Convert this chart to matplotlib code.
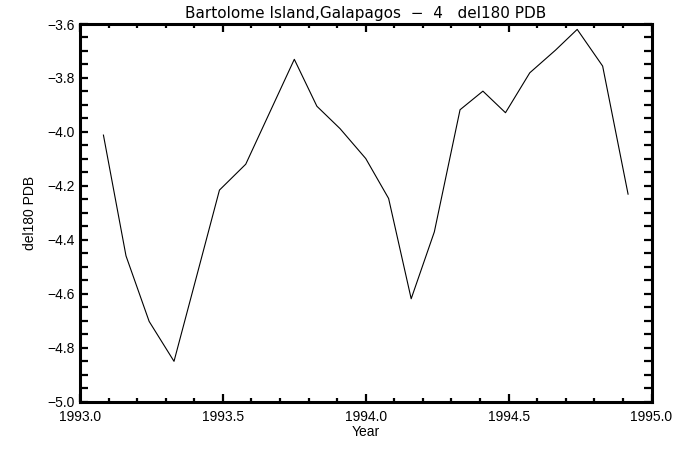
import matplotlib
matplotlib.use("Agg")
import matplotlib.pyplot as plt
from matplotlib.ticker import MultipleLocator, FuncFormatter

years = [1993.082, 1993.161, 1993.242, 1993.329, 1993.410, 1993.488, 1993.580,
         1993.663, 1993.750, 1993.829, 1993.910, 1994.000, 1994.080, 1994.159,
         1994.240, 1994.330, 1994.410, 1994.489, 1994.574, 1994.664, 1994.740,
         1994.829, 1994.918]
del18o = [-4.012, -4.460, -4.703, -4.851, -4.528, -4.216, -4.120,
          -3.930, -3.731, -3.905, -3.988, -4.099, -4.247, -4.619,
          -4.371, -3.918, -3.849, -3.929, -3.781, -3.697, -3.620,
          -3.756, -4.231]

title = "Bartolome Island,Galapagos  \u2212  4   del180 PDB"
xlabel = "Year"
ylabel = "del180 PDB"

plt.rcParams['font.family'] = ['Liberation Sans', 'DejaVu Sans']

def fmt(v, pos):
    return ("%.1f" % v).replace("-", "\u2212")

fig = plt.figure(figsize=(6.75, 4.5), dpi=100)
ax = fig.add_axes([80/675, 1-401.5/450, (651.5-80)/675, (401.5-24)/450])

ax.plot(years, del18o, color='black', lw=0.8)

ax.set_xlim(1993.0, 1995.0)
ax.set_ylim(-5.0, -3.6)
ax.xaxis.set_major_locator(MultipleLocator(0.5))
ax.xaxis.set_minor_locator(MultipleLocator(0.1))
ax.yaxis.set_major_locator(MultipleLocator(0.2))
ax.yaxis.set_minor_locator(MultipleLocator(0.05))
ax.xaxis.set_major_formatter(FuncFormatter(fmt))
ax.yaxis.set_major_formatter(FuncFormatter(fmt))

for s in ax.spines.values():
    s.set_linewidth(2.2)
ax.tick_params(axis='both', which='both', direction='in', top=True, right=True,
               width=1.6, labelsize=10, colors='black')
ax.tick_params(axis='x', which='major', length=5.5, pad=6)
ax.tick_params(axis='x', which='minor', length=2.8)
ax.tick_params(axis='y', which='major', length=6, pad=4)
ax.tick_params(axis='y', which='minor', length=5.5)

ax.set_title(title, fontsize=11, pad=4, family=['DejaVu Sans'])
ax.set_xlabel(xlabel, fontsize=10, labelpad=1)
ax.set_ylabel(ylabel, fontsize=10, labelpad=7)

fig.savefig("out.png", dpi=100, facecolor='white')
